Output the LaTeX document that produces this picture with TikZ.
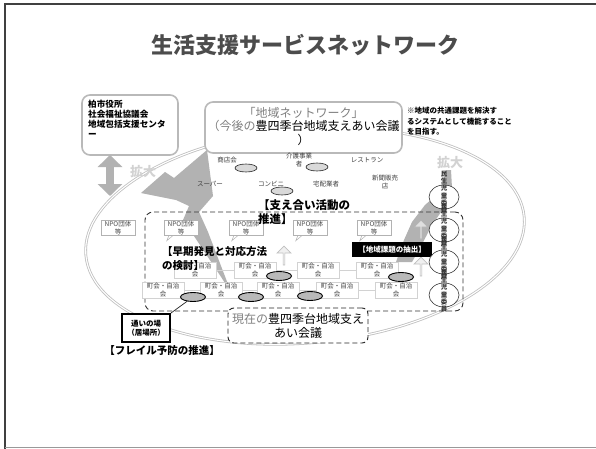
\documentclass[tikz,border=0pt]{standalone}
\usepackage{fontspec}
\setmainfont{Noto Sans CJK JP}
\usetikzlibrary{shapes.geometric,shapes.arrows,arrows.meta,calc}
\newcommand{\fsz}[2]{\fontsize{#1}{#2}\selectfont}
\begin{document}
\begin{tikzpicture}[x=1pt,y=-1pt]
\tikzset{
 lbl/.style={font=\fsz{6.5}{8}, text=black!75, inner sep=0, align=center},
 pill/.style={ellipse, draw=black!85, fill=gray!30, minimum width=22pt, minimum height=8pt, inner sep=0, line width=0.6pt},
 darkpill/.style={ellipse, draw=black, fill=gray!55, minimum width=25pt, minimum height=9pt, inner sep=0, line width=0.9pt},
 npo/.style={draw=gray!60, fill=white, minimum width=34pt, minimum height=15pt, inner sep=0, font=\fsz{6.5}{7.5}, text=black!70, align=center},
 cho/.style={draw=gray!35, fill=white, minimum width=42pt, minimum height=16pt, inner sep=0, font=\fsz{6.5}{7.5}, text=black!75, align=center},
 upar/.style={single arrow, shape border rotate=90, fill=gray!12, draw=gray!50, line width=0.7pt, minimum height=19pt, minimum width=14pt, single arrow head extend=2.5pt, inner sep=0},
 bigbox/.style={draw=gray!55, line width=1.6pt, rounded corners=8pt, fill=white, inner sep=0},
 hl/.style={font=\fsz{13}{14}\bfseries, text=gray!35, inner sep=0},
 bk/.style={text=black, inner sep=0, align=left, anchor=north west},
 minsei/.style={ellipse, draw=black!80, fill=white, minimum width=30pt, minimum height=24pt, inner sep=0, line width=0.6pt},
 tail/.style={draw=gray!60, line width=0.5pt},
}
\useasboundingbox (0,0) rectangle (596,449);
\fill[white] (0,0) rectangle (596,449);
% frame
\draw[black!75, line width=1.6pt] (597,4) -- (4.8,4) -- (4.8,449);
\draw[gray!80, line width=1pt] (4.8,447.5) -- (597,447.5);
% title
\node[font=\fsz{22}{24}\bfseries, text=black!70] (title) at (305,45) {生活支援サービスネットワーク};
% big ellipse
\draw[gray!50, double=white, double distance=1.1pt, line width=0.8pt, rotate around={5:(305,236)}] (305,236) ellipse [x radius=220pt, y radius=107pt];
% gray expansion shapes
\fill[gray!60] (141,193) -- (165,172) -- (174,178) -- (207,150) -- (213,196) -- (199,212) -- (208,232) -- (231,292) -- (194,236) -- (183,220) -- (189,206) -- (176,200) -- cycle;
\fill[gray!60] (446,170) -- (451,170) -- (452,188) -- (446,205) -- (432,225) -- (420,248) -- (412,262) -- (396,262) -- (404,240) -- (412,222) -- (425,205) -- (440,192) -- cycle;
% kashiwa box
\node[bigbox, minimum width=96pt, minimum height=60pt] (kashiwa) at (130,125) {};
\node[font=\fsz{8.6}{10}\bfseries, align=left, anchor=north west, inner sep=0] (kashiwatxt) at (88,99.8) {柏市役所\\社会福祉協議会\\地域包括支援センタ\\ー};
\coordinate (kaArrTop) at (110,155);
\coordinate (kaArrBot) at (110,196);
\draw[gray!60, line width=8pt, {Triangle[width=24pt,length=12pt]}-{Triangle[width=24pt,length=12pt]}] (kaArrTop) -- (kaArrBot);
% network box
\node[bigbox, minimum width=197pt, minimum height=51pt] (netbox) at (303.5,127.5) {};
\node[font=\fsz{12}{13.5}, align=center, inner sep=0] (nettxt) at (303.5,126.5) {\textcolor{gray}{「地域ネットワーク」}\\\textcolor{gray}{（今後の}豊四季台地域支えあい会議\\）};
% note
\node[font=\fsz{7.5}{10.5}\bfseries, align=left, anchor=north west, inner sep=0] (note) at (407,107) {※地域の共通課題を解決す\\るシステムとして機能すること\\を目指す。};
% local businesses
\node[lbl] (shoten) at (227,160) {商店会};
\node[lbl] (kaigo) at (299,160) {介護事業\\者};
\node[lbl] (rest) at (367,160) {レストラン};
\node[lbl] (super) at (210,184) {スーパー};
\node[lbl] (conv) at (271,184) {コンビニ};
\node[lbl] (takuhai) at (326,184) {宅配業者};
\node[lbl] (shinbun) at (385,182) {新聞販売\\店};
\node[pill] (p1) at (246,168) {};
\node[pill] (p2) at (317,167) {};
\node[pill] (p3) at (282,191) {};
% expand labels
\node[hl] (kakL) at (143,172) {拡大};
\node[hl] (kakR) at (450,163) {拡大};
% dashed support area
\node[draw=black!80, line width=0.9pt, dash pattern=on 5pt off 3pt, rounded corners=8pt, minimum width=318pt, minimum height=99pt, inner sep=0] (area) at (304,261.5) {};
% NPO boxes
\node[npo] (npo1) at (118,228) {NPO団体\\等};
\node[npo] (npo2) at (181,228) {NPO団体\\等};
\node[npo] (npo3) at (246,228) {NPO団体\\等};
\node[npo] (npo4) at (310,228) {NPO団体\\等};
\node[npo] (npo5) at (374,228) {NPO団体\\等};
\foreach \n in {npo2,npo3,npo4,npo5}
  \draw[tail] ($(\n.south west)+(5,0)$) -- ++(-2,5) -- ($(\n.south west)+(9,0)$);
% chokai boxes
\node[cho] (cu1) at (195,270) {町会・自治\\会};
\node[cho] (cu2) at (255,270) {町会・自治\\会};
\node[cho] (cu3) at (318,270) {町会・自治\\会};
\node[cho] (cu4) at (377,270) {町会・自治\\会};
\node[cho] (cl1) at (163,290) {町会・自治\\会};
\node[cho] (cl2) at (221,290) {町会・自治\\会};
\node[cho] (cl3) at (278,290) {町会・自治\\会};
\node[cho] (cl4) at (337,290) {町会・自治\\会};
\node[cho] (cl5) at (396,290) {町会・自治\\会};
\draw[gray!35, line width=0.8pt] (cu1.east) -- (cu2.west) (cu2.east) -- (cu3.west) (cu3.east) -- (cu4.west);
\draw[gray!35, line width=0.8pt] (cl1.east) -- (cl2.west) (cl2.east) -- (cl3.west) (cl3.east) -- (cl4.west) (cl4.east) -- (cl5.west);
\node[darkpill] (pl1) at (193,297) {};
\node[darkpill] (pl2) at (251,297) {};
\node[darkpill] (pl3) at (310,296) {};
\node[darkpill] (pu1) at (279,276) {};
\node[darkpill] (pu2) at (401,277) {};
% up arrows
\node[upar] (ua1) at (284,256) {};
\node[upar, fill=gray!25, draw=gray!60] (ua2) at (421,230) {};
\node[upar] (ua3) at (421,267) {};
% labels
\node[fill=black, text=white, font=\fsz{7.5}{8}\bfseries, minimum width=80pt, minimum height=15pt, inner sep=0] (chushutsu) at (392,249.5) {【地域課題の抽出】};
\node[bk, font=\fsz{11.5}{13.5}\bfseries] (sasae) at (258,199.5) {【支え合い活動の\\推進】};
\node[bk, font=\fsz{10.5}{14}\bfseries] (soki) at (162,246) {【早期発見と対応方法\\の検討】};
% tsudoi
\node[draw=black, line width=1.8pt, fill=white, minimum width=48pt, minimum height=28pt, inner sep=0, font=\fsz{7.5}{9}\bfseries, align=center] (tsudoi) at (146,328) {通いの場\\（居場所）};
\draw[black!85, line width=0.7pt] (pl1) -- (tsudoi.north east);
\node[font=\fsz{10.5}{12}\bfseries, inner sep=0] (frail) at (162,351) {【フレイル予防の推進】};
% genzai
\node[draw=black!85, dash pattern=on 5pt off 3pt, line width=0.9pt, rounded corners=6pt, fill=white, minimum width=140pt, minimum height=35pt, font=\fsz{12}{14}, align=center, inner sep=0] (genzai) at (298,325.5) {\textcolor{gray}{現在の}豊四季台地域支え\\あい会議};
% minsei
\node[minsei] (min1) at (444,197) {};
\node[minsei] (min2) at (444,230) {};
\node[minsei] (min3) at (444,262) {};
\node[minsei] (min4) at (444,295) {};
\foreach \k in {0,1,2,3}
  \node[font=\fsz{6.5}{7.2}\bfseries, align=center, anchor=north, inner sep=0, text=black!80] (mintxt\k) at (444,{171+33*\k}) {民\\生\\児\\童\\委\\員};
\end{tikzpicture}
\end{document}
